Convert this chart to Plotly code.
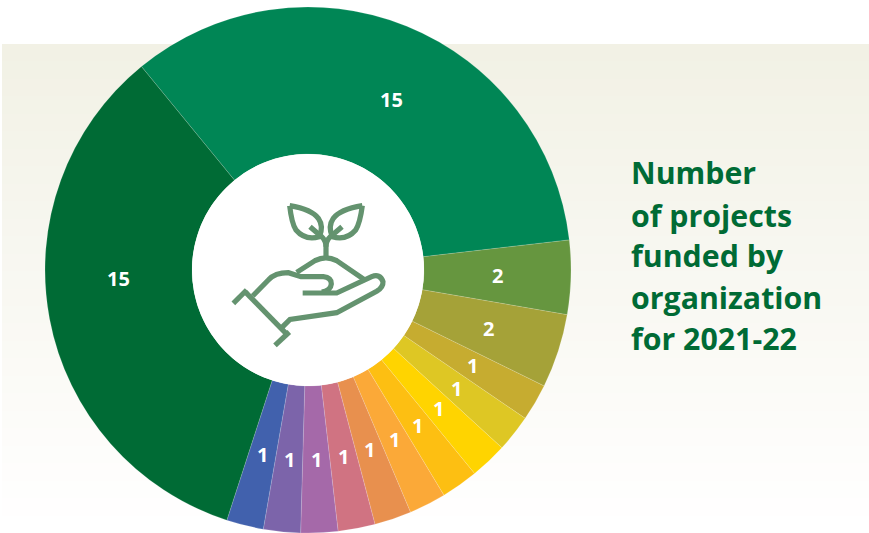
import math
import plotly.graph_objects as go

# Projects funded per organization, clockwise from the upper-left boundary
slice_names = ["Org A", "Org B", "Org C", "Org D", "Org E", "Org F", "Org G", "Org H",
               "Org I", "Org J", "Org K", "Org L", "Org M", "Org N"]
project_counts = [15, 2, 2, 1, 1, 1, 1, 1, 1, 1, 1, 1, 1, 15]
slice_colors = ["#008655", "#66963F", "#A5A238", "#C6AC30", "#DEC724", "#FFD400", "#FDBF12",
                "#FBA938", "#E8904E", "#D07382", "#A569A9", "#7C64AA", "#4161AD", "#006B35"]
# The two big labels sit slightly clockwise of their slice's middle
label_shift_deg = [4, 0, 0, 0, 0, 0, 0, 0, 0, 0, 0, 0, 0, 8]

title_lines = ["Number", "of projects", "funded by", "organization", "for 2021-22"]
title_centers = [172, 215, 255, 297, 338]

W, H = 869, 533
CX, CY, R, R_HOLE = 308, 270, 263, 116
LABEL_R = 190
START_DEG = -39.3
GREEN_TEXT = "#006B35"
ICON = "#64936F"
PANEL_TOP, PANEL_BOTTOM, PANEL_BANDS = 44, 533, 28

fig = go.Figure()

# Pale panel fading to white behind the ring, drawn as narrow horizontal bands
band_edges = [PANEL_TOP + (PANEL_BOTTOM - PANEL_TOP) * i / PANEL_BANDS for i in range(PANEL_BANDS + 1)]
band_levels = [[i / (PANEL_BANDS - 1)] for i in range(PANEL_BANDS)]
fig.add_trace(go.Heatmap(
    x=[2, 869], y=band_edges, z=band_levels,
    colorscale=[[0, "#F2F1E5"], [1, "#FFFFFF"]],
    zmin=0, zmax=1, showscale=False, hoverinfo="skip",
))

fig.add_trace(go.Pie(
    labels=slice_names,
    values=project_counts,
    sort=False,
    direction="clockwise",
    rotation=START_DEG,
    hole=R_HOLE / R,
    marker=dict(colors=slice_colors, line=dict(color="rgba(255,255,255,0.3)", width=0.5)),
    textinfo="none",
    domain=dict(x=[(CX - R) / W, (CX + R) / W], y=[1 - (CY + R) / H, 1 - (CY - R) / H]),
    showlegend=False,
    hoverinfo="label+value",
))


def zoomed(points):
    """Build an SVG path from icon coordinates given on a 3x grid with origin (190, 170)."""
    out = []
    for cmd, *xy in points:
        coords = [f"{190 + xy[i] / 3:.2f},{170 + xy[i + 1] / 3:.2f}" for i in range(0, len(xy), 2)]
        out.append(cmd + " " + " ".join(coords))
    return " ".join(out)


icon_paths = [
    # left leaf
    [("M", 299, 107), ("Q", 365, 118, 385, 145), ("Q", 402, 170, 388, 200),
     ("Q", 345, 212, 318, 180), ("Q", 305, 160, 299, 107)],
    # right leaf
    [("M", 517, 107), ("Q", 450, 118, 430, 145), ("Q", 413, 170, 427, 200),
     ("Q", 470, 212, 497, 180), ("Q", 510, 160, 517, 107)],
    # stem and veins
    [("M", 360, 170), ("L", 395, 200), ("Q", 408, 212, 408, 230), ("L", 408, 262)],
    [("M", 456, 170), ("L", 421, 200), ("Q", 408, 212, 408, 230)],
    # soil
    [("M", 320, 307), ("L", 375, 272), ("Q", 408, 255, 440, 272), ("L", 522, 328)],
    # hand
    [("M", 188, 378), ("L", 235, 330), ("Q", 255, 308, 295, 308), ("L", 333, 320),
     ("L", 400, 320), ("Q", 424, 322, 424, 342), ("Q", 422, 362, 395, 366)],
    [("M", 338, 369), ("L", 440, 369), ("L", 545, 320), ("Q", 570, 310, 579, 335),
     ("Q", 580, 352, 560, 364), ("L", 440, 428), ("L", 300, 448), ("L", 276, 472)],
    # cuff
    [("M", 165, 365), ("L", 288, 490)],
    [("M", 130, 400), ("L", 170, 360)],
    [("M", 255, 526), ("L", 298, 486)],
]

shapes = [dict(type="circle", xref="x", yref="y", x0=CX - R_HOLE, x1=CX + R_HOLE,
               y0=CY - R_HOLE, y1=CY + R_HOLE, fillcolor="white", line_width=0, layer="above")]
for segs in icon_paths:
    shapes.append(dict(type="path", xref="x", yref="y", path=zoomed(segs),
                       line=dict(color=ICON, width=5.2), layer="above"))

annotations = [
    dict(text=line, x=629, y=center, xref="x", yref="y", xanchor="left", yanchor="middle",
         showarrow=False, align="left",
         font=dict(family="Open Sans", size=30.3, color=GREEN_TEXT, weight=700))
    for line, center in zip(title_lines, title_centers)
]

# Value labels placed at mid-ring, from the angle each count occupies
total = sum(project_counts)
running = 0
for count, shift in zip(project_counts, label_shift_deg):
    mid = START_DEG + (running + count / 2) / total * 360 + shift
    running += count
    annotations.append(dict(
        text=str(count),
        x=CX + LABEL_R * math.sin(math.radians(mid)),
        y=CY - LABEL_R * math.cos(math.radians(mid)),
        xref="x", yref="y", showarrow=False,
        font=dict(family="Open Sans", size=20, color="white", weight=700),
    ))

fig.update_layout(
    width=W, height=H,
    margin=dict(l=0, r=0, t=0, b=0),
    paper_bgcolor="white", plot_bgcolor="white",
    xaxis=dict(range=[0, W], visible=False, fixedrange=True),
    yaxis=dict(range=[H, 0], visible=False, fixedrange=True),
    shapes=shapes, annotations=annotations,
)

fig.write_html("out.html", config={"displayModeBar": False})
